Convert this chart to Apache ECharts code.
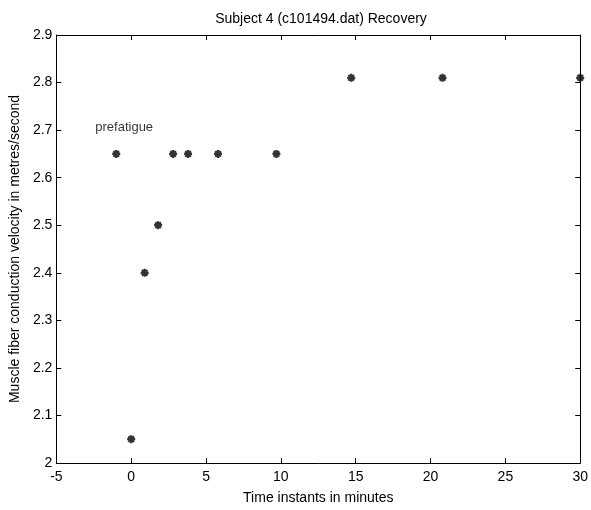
<!DOCTYPE html>
<html>
<head>
<meta charset="utf-8">
<script src="https://cdn.jsdelivr.net/npm/echarts@6/dist/echarts.min.js"></script>
<style>
  html, body { margin: 0; padding: 0; background: #fff; }
  #chart { width: 591px; height: 510px; }
</style>
</head>
<body>
<div id="chart"></div>
<script>
// Recovery measurements: time (minutes) vs. conduction velocity (m/s)
const times = [-1, 0, 0.9, 1.8, 2.8, 3.8, 5.8, 9.7, 14.7, 20.8, 30];
const velocity = [2.65, 2.05, 2.40, 2.50, 2.65, 2.65, 2.65, 2.65, 2.81, 2.81, 2.81];

// Annotation placed in data coordinates
const noteX = [-2.4];
const noteY = [2.705];
const noteText = ['prefatigue'];

const xTicks = [-5, 0, 5, 10, 15, 20, 25, 30];
const yTicks = [2, 2.1, 2.2, 2.3, 2.4, 2.5, 2.6, 2.7, 2.8, 2.9];

const FONT = 'Liberation Sans, Arial, sans-serif';

// asterisk-like marker built from four bars
const asterisk = 'path://M0 3.6L10 3.6L10 6.4L0 6.4Z M3.6 0L6.4 0L6.4 10L3.6 10Z ' +
  'M0.5 2.5L2.5 0.5L9.5 7.5L7.5 9.5Z M7.5 0.5L9.5 2.5L2.5 9.5L0.5 7.5Z';

const chart = echarts.init(document.getElementById('chart'), null, { renderer: 'canvas' });

const axisCommon = {
  axisLine: { show: true, onZero: false, lineStyle: { color: '#000', width: 1 } },
  axisTick: { show: true, inside: true, length: 5, lineStyle: { color: '#000' } },
  splitLine: { show: false }
};

chart.setOption({
  animation: false,
  backgroundColor: '#fff',
  title: {
    text: 'Subject 4 (c101494.dat) Recovery',
    left: 316, top: 7, textAlign: 'center',
    textStyle: { fontFamily: FONT, fontSize: 14, fontWeight: 'normal', color: '#000' }
  },
  grid: { left: 51, right: 10, top: 35, bottom: 41, containLabel: false },
  xAxis: [
    Object.assign({
      type: 'value', min: xTicks[0], max: xTicks[xTicks.length - 1], interval: 5,
      position: 'bottom',
      name: 'Time instants in minutes', nameLocation: 'middle', nameGap: 28,
      nameTextStyle: { fontFamily: FONT, fontSize: 14, color: '#000' },
      axisLabel: { fontFamily: FONT, fontSize: 14, color: '#000', margin: 7 }
    }, axisCommon),
    Object.assign({
      type: 'value', min: xTicks[0], max: xTicks[xTicks.length - 1], interval: 5,
      position: 'top', axisLabel: { show: false }
    }, axisCommon)
  ],
  yAxis: [
    Object.assign({
      type: 'value', min: yTicks[0], max: yTicks[yTicks.length - 1], interval: 0.1,
      position: 'left',
      name: 'Muscle fiber conduction velocity in metres/second', nameLocation: 'middle', nameGap: 30,
      nameTextStyle: { fontFamily: FONT, fontSize: 14, color: '#000' },
      axisLabel: {
        fontFamily: FONT, fontSize: 14, color: '#000', margin: 4,
        formatter: v => String(Math.round(v * 10) / 10)
      }
    }, axisCommon),
    Object.assign({
      type: 'value', min: yTicks[0], max: yTicks[yTicks.length - 1], interval: 0.1,
      position: 'right', axisLabel: { show: false }
    }, axisCommon)
  ],
  series: [
    {
      type: 'scatter',
      xAxisIndex: 0, yAxisIndex: 0,
      symbol: asterisk,
      symbolSize: 8,
      itemStyle: { color: '#000' },
      data: times.map((t, i) => [t, velocity[i]])
    },
    {
      type: 'scatter',
      xAxisIndex: 0, yAxisIndex: 0,
      symbolSize: 0,
      silent: true,
      data: noteX.map((x, i) => [x, noteY[i], noteText[i]]),
      label: {
        show: true, position: 'right', distance: 0,
        formatter: p => p.data[2],
        fontFamily: FONT, fontSize: 13, color: '#000'
      }
    }
  ]
});
</script>
</body>
</html>
